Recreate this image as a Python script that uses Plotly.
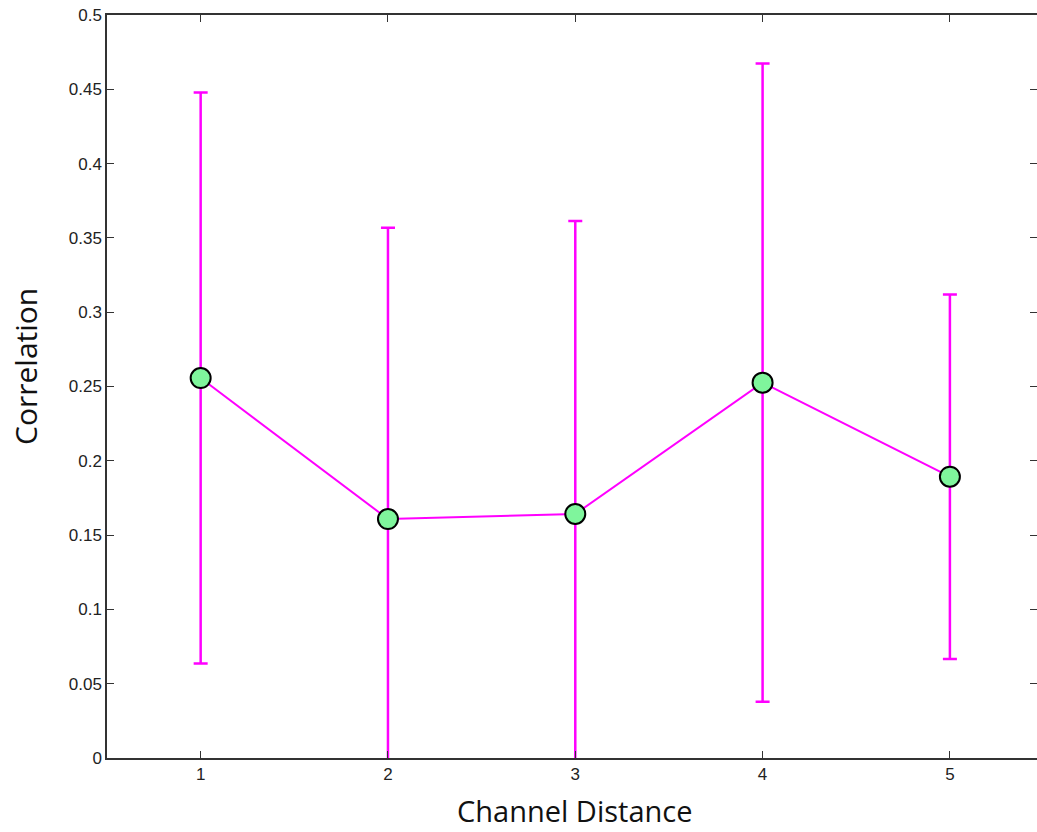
import plotly.graph_objects as go

distance = [1, 2, 3, 4, 5]
correlation = [0.2557, 0.1608, 0.1642, 0.2526, 0.1893]
error = [0.1921, 0.1960, 0.1972, 0.2148, 0.1226]
yticks = [0, 0.05, 0.1, 0.15, 0.2, 0.25, 0.3, 0.35, 0.4, 0.45, 0.5]
yticklabels = ["0", "0.05", "0.1", "0.15", "0.2", "0.25", "0.3", "0.35", "0.4", "0.45", "0.5"]
x_title = "Channel Distance"
y_title = "Correlation"

fig = go.Figure()
fig.add_trace(go.Scatter(
    x=distance, y=correlation,
    mode="lines+markers",
    line=dict(color="#ff00ff", width=2),
    marker=dict(size=20, color="#7ff59c", line=dict(color="black", width=2)),
    error_y=dict(type="data", array=error, visible=True, color="#ff00ff", thickness=2.5, width=7),
    showlegend=False,
))
# invisible companion trace so the right-hand tick axis is drawn
fig.add_trace(go.Scatter(
    x=distance, y=correlation, yaxis="y2", mode="markers",
    marker=dict(opacity=0), hoverinfo="skip", showlegend=False,
))

W, H = 1037, 832
L, R, T, B = 107, 0, 15, 74
pw, ph = W - L - R, H - T - B

fig.update_layout(
    width=W, height=H,
    margin=dict(l=L, r=R, t=T, b=B),
    paper_bgcolor="white", plot_bgcolor="white",
    font=dict(family="Liberation Sans, Arial, sans-serif", color="#222"),
    yaxis2=dict(
        overlaying="y", side="right", range=[0, 0.5],
        tickvals=yticks, ticks="inside", ticklen=7, tickcolor="#333", tickwidth=1,
        showticklabels=False, showline=False, showgrid=False, zeroline=False,
    ),
)
fig.update_xaxes(
    range=[0.5, 5.465], tickvals=distance, ticktext=[str(d) for d in distance],
    ticks="inside", ticklen=7, tickcolor="#333", tickwidth=1,
    showline=True, linecolor="#333", linewidth=1.5, mirror="ticks",
    showgrid=False, zeroline=False,
    tickfont=dict(size=17),
)
fig.update_layout(yaxis=dict(
    range=[0, 0.5], tickvals=yticks, ticktext=yticklabels,
    ticks="inside", ticklen=7, tickcolor="#333", tickwidth=1,
    showline=True, linecolor="#333", linewidth=1.5, mirror=False,
    showgrid=False, zeroline=False,
    tickfont=dict(size=17),
))

fig.add_annotation(
    text=x_title, xref="paper", yref="paper",
    x=(574 - L) / pw, y=(H - B - 832) / ph,
    xanchor="center", yanchor="bottom", showarrow=False,
    font=dict(family="Open Sans", size=29, color="#111"),
)
fig.add_annotation(
    text=y_title, xref="paper", yref="paper", textangle=-90,
    x=(26 - L) / pw, y=(H - B - 367) / ph,
    xanchor="center", yanchor="middle", showarrow=False,
    font=dict(family="Open Sans", size=30, color="#111"),
)

fig.write_html("out.html", config={"displayModeBar": False},
               post_script="document.body.style.margin='0';")
